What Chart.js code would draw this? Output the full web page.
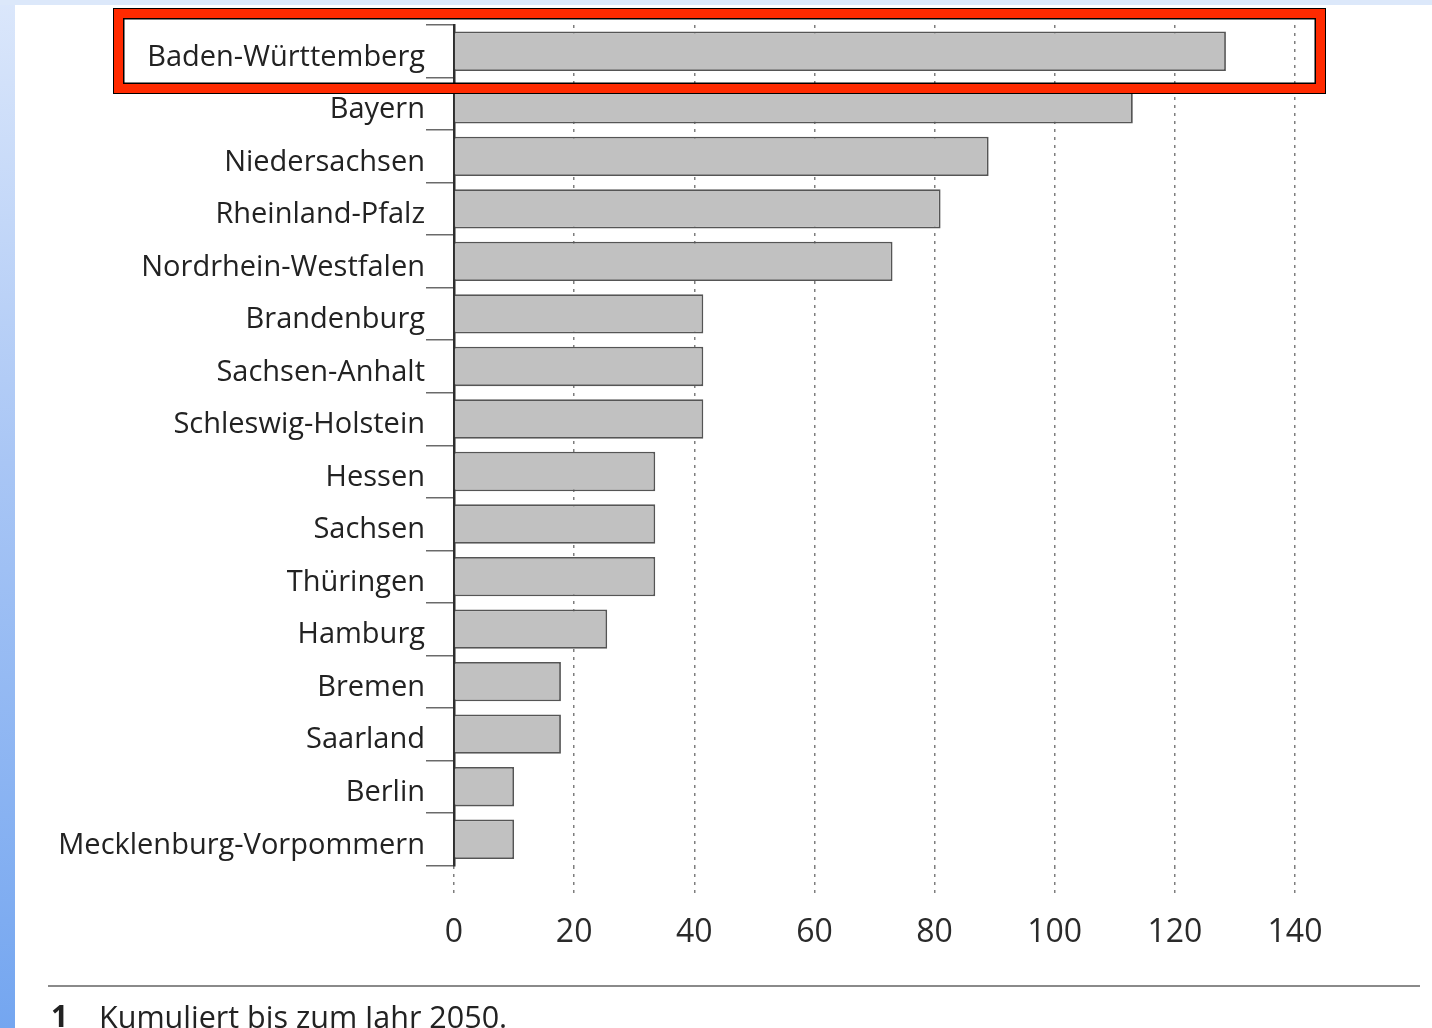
<!DOCTYPE html>
<html>
<head>
<meta charset="utf-8">
<script src="https://cdn.jsdelivr.net/npm/chart.js@4"></script>
<style>
  html, body { margin:0; padding:0; }
  body { width:1432px; height:1028px; position:relative; overflow:hidden;
         background:#ffffff; font-family:"Open Sans", sans-serif; }
  #leftStrip { position:absolute; left:0; top:0; width:15px; height:1028px;
         background:linear-gradient(to bottom, #dbe7fb 0%, #a9c6f5 45%, #74a6f0 100%); }
  #topStrip { position:absolute; left:0; top:0; width:1432px; height:5px; background:#dce8fa; }
  #wrap { position:absolute; left:0; top:0; width:1432px; height:1028px; }
  #rule { position:absolute; left:48px; top:985px; width:1372px; height:2px; background:#8a8a8a; }
  #fnNum { position:absolute; left:51px; top:995px; font-size:30px; font-weight:bold; color:#222; }
  #fnText { position:absolute; left:99px; top:995px; font-size:30.5px; color:#222; }
  #hl { position:absolute; left:114px; top:9px; width:1211px; height:84px; box-sizing:border-box;
        border:9px solid #ff2a00; outline:1.5px solid #000;
        box-shadow: inset 0 0 0 1.5px #000; pointer-events:none; }
</style>
</head>
<body>
<div id="leftStrip"></div>
<div id="topStrip"></div>
<div id="wrap"><canvas id="c" width="1432" height="1028"></canvas></div>
<div id="rule"></div>
<div id="fnNum">1</div>
<div id="fnText">Kumuliert bis zum Jahr 2050.</div>
<div id="hl"></div>
<script>
const categories = [
  "Baden-Württemberg", "Bayern", "Niedersachsen", "Rheinland-Pfalz",
  "Nordrhein-Westfalen", "Brandenburg", "Sachsen-Anhalt", "Schleswig-Holstein",
  "Hessen", "Sachsen", "Thüringen", "Hamburg", "Bremen", "Saarland",
  "Berlin", "Mecklenburg-Vorpommern"
];
const values = [128.5, 113, 89, 81, 73, 41.5, 41.5, 41.5, 33.5, 33.5, 33.5, 25.5, 17.8, 17.8, 10, 10];
const xTicks = [0, 20, 40, 60, 80, 100, 120, 140];

const FONT = '"Open Sans", sans-serif';

new Chart(document.getElementById('c'), {
  type: 'bar',
  data: {
    labels: categories,
    datasets: [{
      data: values,
      backgroundColor: '#c1c1c1',
      borderColor: '#555555',
      borderWidth: 1.8,
      categoryPercentage: 1.0,
      barPercentage: 0.75
    }]
  },
  options: {
    indexAxis: 'y',
    responsive: false,
    animation: false,
    events: [],
    layout: { padding: { left: 0, right: 137, top: 25, bottom: 0 } },
    plugins: { legend: { display: false }, tooltip: { enabled: false } },
    scales: {
      x: {
        type: 'linear',
        min: 0, max: 140,
        afterBuildTicks: (s) => { s.ticks = xTicks.map(v => ({ value: v })); },
        afterFit: (s) => { s.height = 1028 - 865.5; },
        grid: {
          color: '#7e7e7e', lineWidth: 1.5,
          drawTicks: true, tickLength: 28,
          tickColor: '#7e7e7e', tickWidth: 1.5,
          tickBorderDash: [3, 5]
        },
        border: { display: false, dash: [3, 5] },
        ticks: {
          padding: 20,
          color: '#2a2a2a',
          font: { family: FONT, size: 32 }
        }
      },
      y: {
        type: 'category',
        offset: true,
        afterFit: (s) => { s.width = 454; },
        grid: {
          offset: true,
          drawOnChartArea: false,
          drawTicks: true,
          tickLength: 28,
          color: '#6a6a6a',
          lineWidth: 1.5
        },
        border: { display: true, color: '#2e2e2e', width: 2.5 },
        ticks: {
          padding: 1,
          labelOffset: 6,
          color: '#222222',
          font: { family: FONT, size: 29, weight: '500' }
        }
      }
    }
  }
});
</script>
</body>
</html>
